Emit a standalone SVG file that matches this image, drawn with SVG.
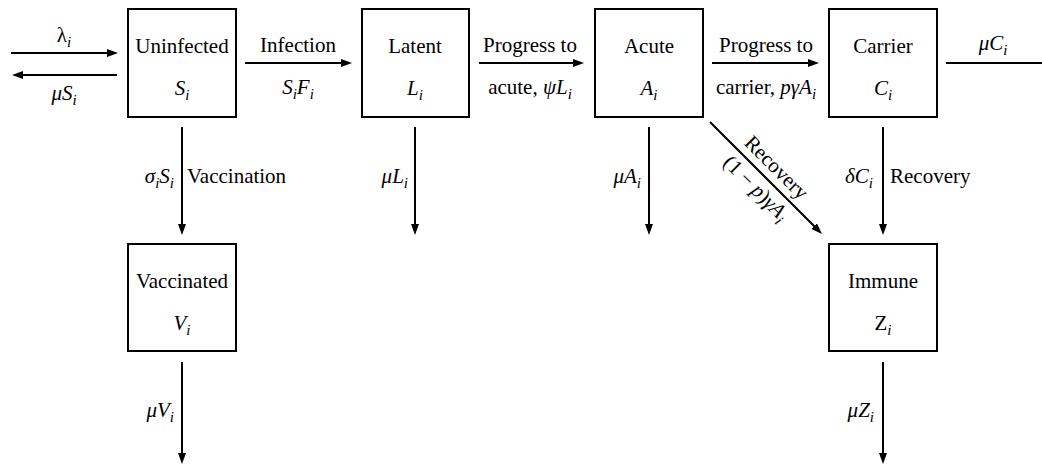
<svg xmlns="http://www.w3.org/2000/svg" width="1042" height="466" viewBox="0 0 1042 466">
<defs>
<style>
text{font-family:'Liberation Serif','Times New Roman',serif;font-size:21px;fill:#000}
.c{text-anchor:middle}
.e{text-anchor:end}
.it{font-style:italic}
.sb{font-size:15px;font-style:italic}
.box{fill:#fff;stroke:#000;stroke-width:2}
.ln{stroke:#000;stroke-width:2;fill:none}
.ar{stroke:#000;stroke-width:2;fill:none;marker-end:url(#ah)}
</style>
<marker id="ah" markerUnits="userSpaceOnUse" markerWidth="12" markerHeight="8" refX="3" refY="4" orient="auto">
<path d="M0,0 L11,4 L0,8 z" fill="#000"/>
</marker>
</defs>
<rect width="1042" height="466" fill="#fff"/>

<g id="connectors">
<line class="ar" x1="11" y1="53" x2="110" y2="53"/>
<line class="ar" x1="117" y1="75" x2="20" y2="75"/>
<line class="ar" x1="245" y1="63" x2="344" y2="63"/>
<line class="ar" x1="479" y1="63" x2="576" y2="63"/>
<line class="ar" x1="712" y1="63" x2="811" y2="63"/>
<line class="ln" x1="946" y1="63" x2="1042" y2="63"/>
<line class="ar" x1="182" y1="127" x2="182" y2="227"/>
<line class="ar" x1="415" y1="127" x2="415" y2="227"/>
<line class="ar" x1="649" y1="127" x2="649" y2="227"/>
<line class="ar" x1="883" y1="127" x2="883" y2="227"/>
<line class="ar" x1="182" y1="362" x2="182" y2="456"/>
<line class="ar" x1="883" y1="362" x2="883" y2="456"/>
<line class="ar" x1="710" y1="122" x2="816.3" y2="228.3"/>

<text class="c" x="64" y="42">λ<tspan class="sb" dy="5">i</tspan></text>
<text class="c" x="64" y="100"><tspan class="it">μS</tspan><tspan class="sb" dy="5">i</tspan></text>
<text class="c" x="298" y="52">Infection</text>
<text class="c" x="298" y="94"><tspan class="it">S</tspan><tspan class="sb" dy="5">i</tspan><tspan class="it" dy="-5">F</tspan><tspan class="sb" dy="5">i</tspan></text>
<text class="c" x="530" y="52">Progress to</text>
<text class="c" x="530" y="94">acute, <tspan class="it">ψL</tspan><tspan class="sb" dy="5">i</tspan></text>
<text class="c" x="766" y="52">Progress to</text>
<text class="c" x="766" y="94">carrier, <tspan class="it">pγA</tspan><tspan class="sb" dy="5">i</tspan></text>
<text class="c" x="993" y="50"><tspan class="it">μC</tspan><tspan class="sb" dy="5">i</tspan></text>
<text class="e" x="174" y="183"><tspan class="it">σ</tspan><tspan class="sb" dy="5">i</tspan><tspan class="it" dy="-5">S</tspan><tspan class="sb" dy="5">i</tspan></text>
<text x="187" y="183">Vaccination</text>
<text class="e" x="408" y="183"><tspan class="it">μL</tspan><tspan class="sb" dy="5">i</tspan></text>
<text class="e" x="641" y="183"><tspan class="it">μA</tspan><tspan class="sb" dy="5">i</tspan></text>
<text class="e" x="873" y="183"><tspan class="it">δC</tspan><tspan class="sb" dy="5">i</tspan></text>
<text x="890" y="183">Recovery</text>
<text class="e" x="174" y="417"><tspan class="it">μV</tspan><tspan class="sb" dy="5">i</tspan></text>
<text class="e" x="874" y="417"><tspan class="it">μZ</tspan><tspan class="sb" dy="5">i</tspan></text>
<g transform="translate(766,178) rotate(45)">
<text class="c" x="0" y="-8">Recovery</text>
<text class="c" x="0" y="21">(1 − <tspan class="it">p</tspan>)<tspan class="it">γA</tspan><tspan class="sb" dy="5">i</tspan></text>
</g>
</g>

<g id="node-uninfected">
<rect class="box" x="128" y="9" width="108" height="108"/>
<text class="c" x="182" y="53">Uninfected</text>
<text class="c" x="182" y="95"><tspan class="it">S</tspan><tspan class="sb" dy="5">i</tspan></text>
</g>
<g id="node-latent">
<rect class="box" x="362" y="9" width="107" height="108"/>
<text class="c" x="415" y="53">Latent</text>
<text class="c" x="415" y="95"><tspan class="it">L</tspan><tspan class="sb" dy="5">i</tspan></text>
</g>
<g id="node-acute">
<rect class="box" x="595" y="9" width="108" height="108"/>
<text class="c" x="649" y="53">Acute</text>
<text class="c" x="649" y="95"><tspan class="it">A</tspan><tspan class="sb" dy="5">i</tspan></text>
</g>
<g id="node-carrier">
<rect class="box" x="829" y="9" width="108" height="108"/>
<text class="c" x="883" y="53">Carrier</text>
<text class="c" x="883" y="95"><tspan class="it">C</tspan><tspan class="sb" dy="5">i</tspan></text>
</g>
<g id="node-vaccinated">
<rect class="box" x="128" y="244" width="108" height="107"/>
<text class="c" x="182" y="288">Vaccinated</text>
<text class="c" x="182" y="330"><tspan class="it">V</tspan><tspan class="sb" dy="5">i</tspan></text>
</g>
<g id="node-immune">
<rect class="box" x="829" y="244" width="108" height="107"/>
<text class="c" x="883" y="288">Immune</text>
<text class="c" x="883" y="330">Z<tspan class="sb" dy="5">i</tspan></text>
</g>
</svg>
